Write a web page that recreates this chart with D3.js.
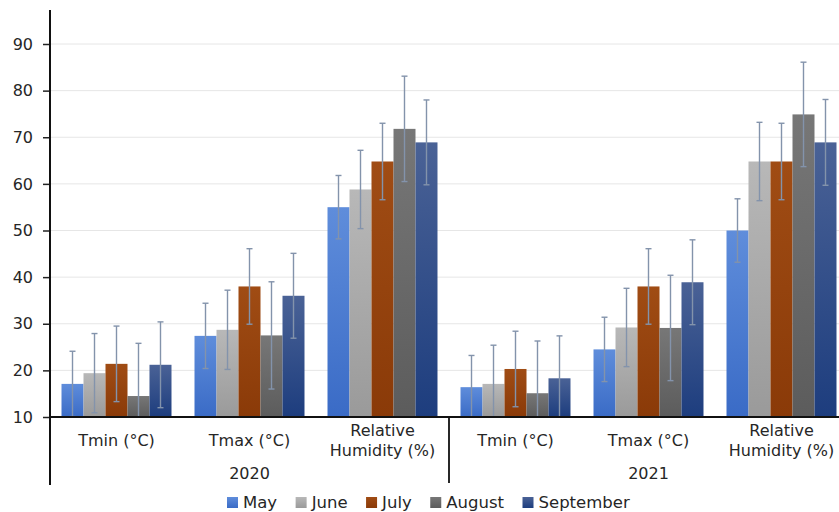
<!DOCTYPE html>
<html>
<head>
<meta charset="utf-8">
<script src="https://cdn.jsdelivr.net/npm/d3@7"></script>
<style>
  html, body { margin: 0; padding: 0; background: #fff; }
  svg { display: block; font-family: "DejaVu Sans", "Open Sans", sans-serif; }
</style>
</head>
<body>
<svg id="chart" width="839" height="512"></svg>
<script>
// ---- data ----
const years = ["2020", "2021"];
const variables = ["Tmin (°C)", "Tmax (°C)", "Relative\nHumidity (%)"];
const months = ["May", "June", "July", "August", "September"];
// values per month, ordered: 2020 Tmin, 2020 Tmax, 2020 RH, 2021 Tmin, 2021 Tmax, 2021 RH
const mayValues       = [17.1, 27.4, 55.0, 16.4, 24.5, 50.0];
const juneValues      = [19.4, 28.7, 58.8, 17.1, 29.2, 64.8];
const julyValues      = [21.4, 38.0, 64.8, 20.3, 38.0, 64.8];
const augustValues    = [14.5, 27.5, 71.8, 15.1, 29.1, 74.9];
const septemberValues = [21.2, 36.0, 68.9, 18.3, 38.9, 68.9];
// error bar half-widths (standard deviation)
const mayErr       = [7.0, 7.0, 6.8, 6.8, 6.9, 6.8];
const juneErr      = [8.5, 8.5, 8.4, 8.3, 8.4, 8.4];
const julyErr      = [8.1, 8.1, 8.2, 8.1, 8.1, 8.2];
const augustErr    = [11.3, 11.5, 11.3, 11.2, 11.3, 11.2];
const septemberErr = [9.2, 9.1, 9.1, 9.1, 9.1, 9.2];
const yTicks = [10, 20, 30, 40, 50, 60, 70, 80, 90];

// ---- build ----
const seriesValues = [mayValues, juneValues, julyValues, augustValues, septemberValues];
const seriesErr = [mayErr, juneErr, julyErr, augustErr, septemberErr];
const catKeys = [];
years.forEach(y => variables.forEach(v => catKeys.push(y + "|" + v)));

const colors = [
  ["#5f8ddb", "#3a6bc6"],
  ["#b8b8b8", "#9a9a9a"],
  ["#a04c14", "#8a3a08"],
  ["#777777", "#5c5c5c"],
  ["#4a6296", "#1d3d7e"]
];
const textColor = "#262626";
const fontSize = "16px";

const svg = d3.select("#chart");
const W = 839;
const x0 = d3.scaleBand().domain(catKeys).range([50, 848]).paddingInner(0.173).paddingOuter(0.0865);
const x1 = d3.scaleBand().domain(months).range([0, x0.bandwidth()]).padding(0);
const y = d3.scaleLinear().domain([10, 90]).range([417, 44]);

const defs = svg.append("defs");
colors.forEach((c, i) => {
  const g = defs.append("linearGradient").attr("id", "grad" + i)
    .attr("x1", 0).attr("y1", 0).attr("x2", 0).attr("y2", 1);
  g.append("stop").attr("offset", "0%").attr("stop-color", c[0]);
  g.append("stop").attr("offset", "100%").attr("stop-color", c[1]);
});
defs.append("clipPath").attr("id", "plotclip")
  .append("rect").attr("x", 50).attr("y", 0).attr("width", W).attr("height", y(10));

// gridlines
svg.append("g").selectAll("line").data(yTicks.filter(t => t > 10)).join("line")
  .attr("x1", 50).attr("x2", W).attr("y1", d => y(d)).attr("y2", d => y(d))
  .attr("stroke", "#e6e6e6").attr("stroke-width", 1);

// bars
const plot = svg.append("g").attr("clip-path", "url(#plotclip)");
const barData = [];
catKeys.forEach((k, ci) => months.forEach((m, si) => {
  barData.push({ k, m, si, v: seriesValues[si][ci], e: seriesErr[si][ci] });
}));
plot.selectAll("rect.bar").data(barData).join("rect").attr("class", "bar")
  .attr("x", d => x0(d.k) + x1(d.m))
  .attr("width", x1.bandwidth())
  .attr("y", d => y(d.v))
  .attr("height", d => y(10) - y(d.v))
  .attr("fill", d => "url(#grad" + d.si + ")");

// error bars
const eb = plot.append("g").attr("stroke", "#8393ab").attr("stroke-width", 1.4);
barData.forEach(d => {
  const cx = x0(d.k) + x1(d.m) + x1.bandwidth() / 2;
  eb.append("line").attr("x1", cx).attr("x2", cx).attr("y1", y(d.v + d.e)).attr("y2", y(d.v - d.e));
  eb.append("line").attr("x1", cx - 3).attr("x2", cx + 3).attr("y1", y(d.v + d.e)).attr("y2", y(d.v + d.e));
  eb.append("line").attr("x1", cx - 3).attr("x2", cx + 3).attr("y1", y(d.v - d.e)).attr("y2", y(d.v - d.e));
});

// y axis
const yAxis = svg.append("g").attr("transform", "translate(50,0)")
  .call(d3.axisLeft(y).tickValues(yTicks).tickSize(7).tickSizeOuter(0).tickPadding(10));
yAxis.select(".domain").remove();
yAxis.selectAll(".tick line").attr("stroke", "#222").attr("stroke-width", 1.5);
yAxis.selectAll(".tick text").attr("fill", textColor).style("font-size", fontSize)
  .style("font-family", "'DejaVu Sans', sans-serif");
svg.append("line").attr("x1", 50).attr("x2", 50).attr("y1", 10).attr("y2", 485)
  .attr("stroke", "#111").attr("stroke-width", 2);

// x axis line
svg.append("line").attr("x1", 50).attr("x2", W).attr("y1", y(10)).attr("y2", y(10))
  .attr("stroke", "#111").attr("stroke-width", 1.8);

// year separator
const sepX = x0(catKeys[3]) - x0.step() * x0.paddingInner() / 2;
svg.append("line").attr("x1", sepX).attr("x2", sepX).attr("y1", y(10)).attr("y2", 483)
  .attr("stroke", "#111").attr("stroke-width", 1.8);

// category labels
const catG = svg.append("g").attr("fill", textColor).style("font-size", fontSize).attr("text-anchor", "middle");
catKeys.forEach(k => {
  const label = k.split("|")[1];
  const cx = x0(k) + x0.bandwidth() / 2;
  const lines = label.split("\n");
  if (lines.length === 1) {
    catG.append("text").attr("x", cx).attr("y", 446).text(lines[0]);
  } else {
    lines.forEach((ln, i) => catG.append("text").attr("x", cx).attr("y", 436 + i * 20).text(ln));
  }
});
// year labels
years.forEach(yr => {
  const ks = catKeys.filter(k => k.startsWith(yr + "|"));
  const cx = (x0(ks[0]) + x0(ks[ks.length - 1]) + x0.bandwidth()) / 2;
  svg.append("text").attr("x", cx).attr("y", 479).attr("text-anchor", "middle")
    .attr("fill", textColor).style("font-size", fontSize).text(yr);
});

// legend
const leg = svg.append("g").style("font-size", "16.5px").attr("fill", textColor);
let lx = 227;
months.forEach((m, i) => {
  leg.append("rect").attr("x", lx).attr("y", 497).attr("width", 11).attr("height", 11)
    .attr("fill", "url(#grad" + i + ")");
  const t = leg.append("text").attr("x", lx + 16).attr("y", 508).text(m);
  lx += 16 + t.node().getComputedTextLength() + 18.5;
});
</script>
</body>
</html>
